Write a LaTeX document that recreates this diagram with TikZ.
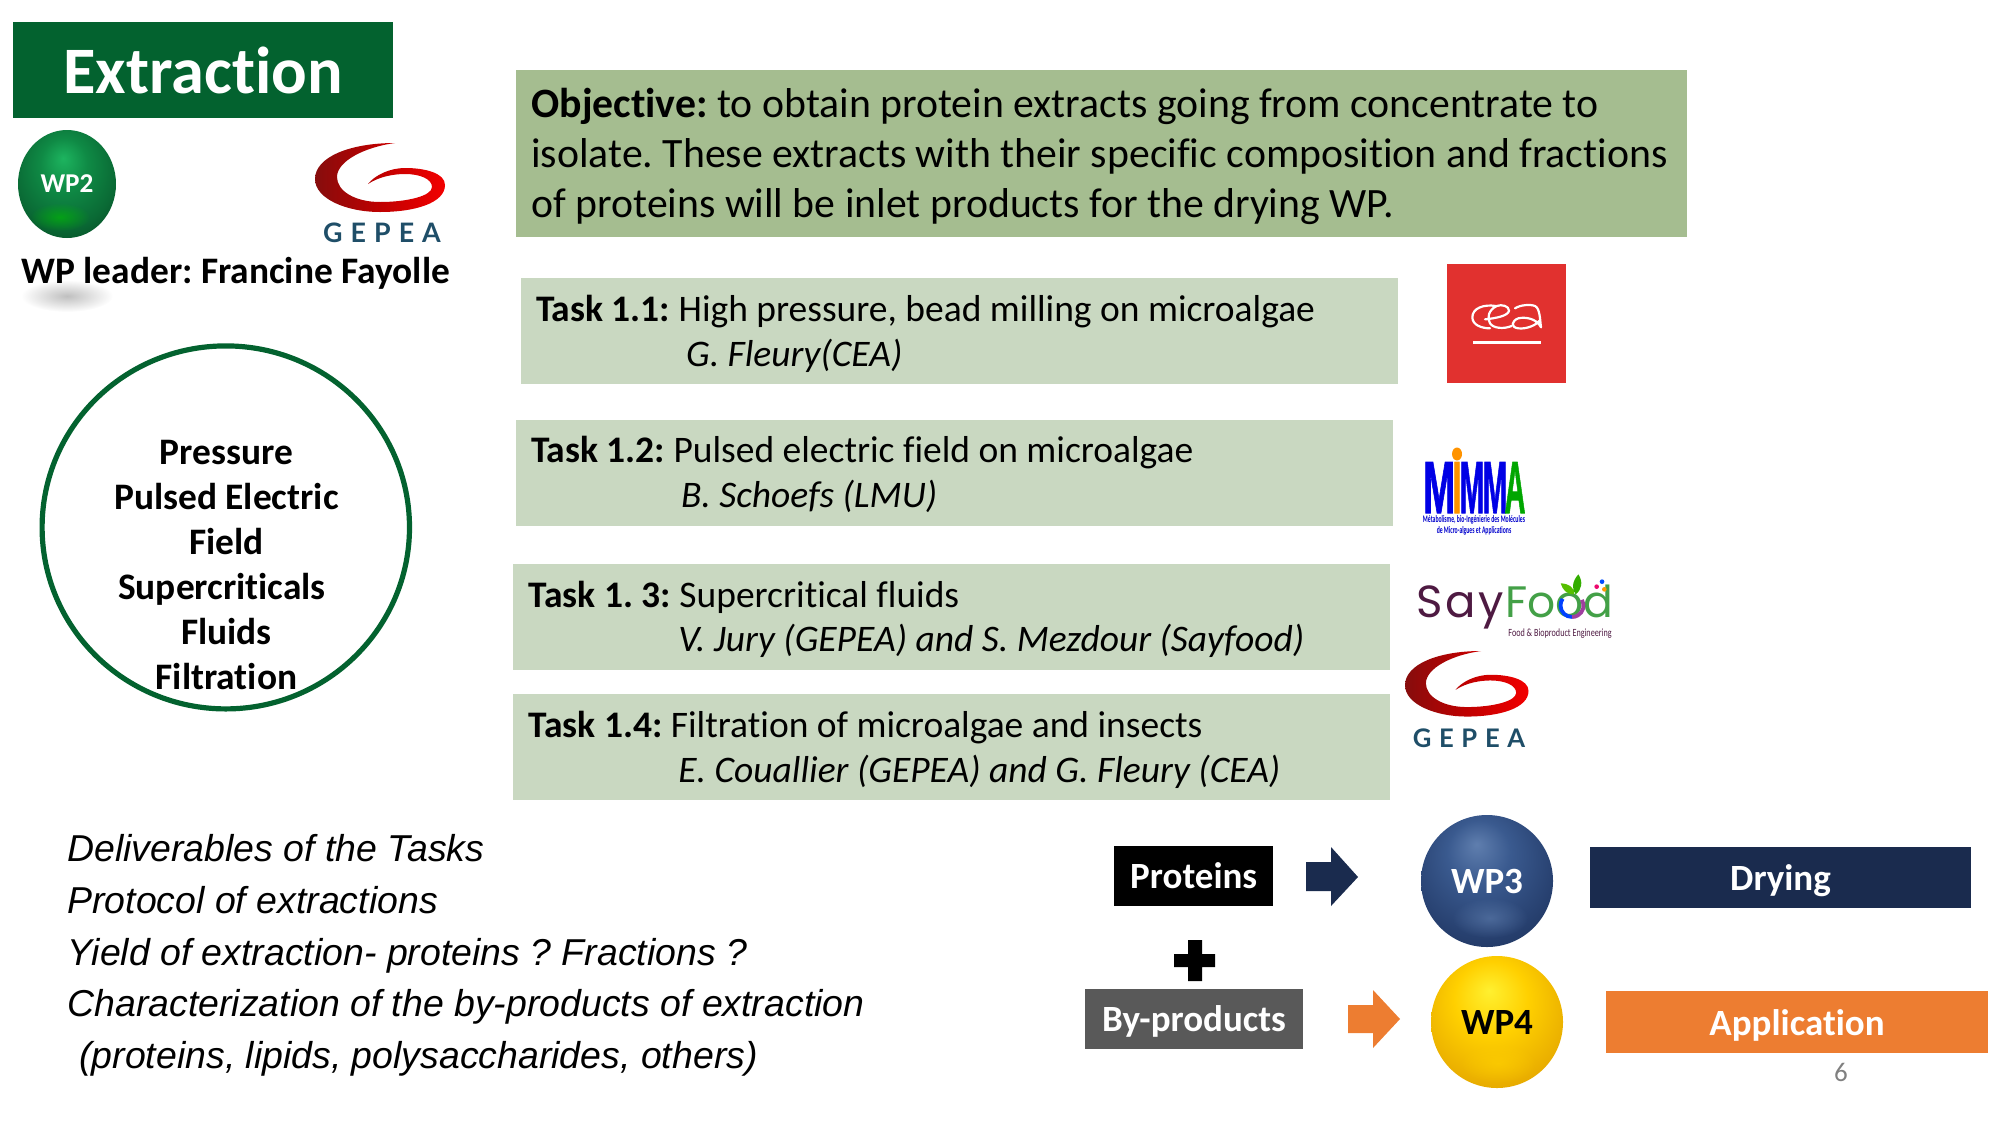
\documentclass[tikz,border=0pt]{standalone}
\usepackage{fontspec}
\usetikzlibrary{shapes.geometric,fadings}
\setmainfont[Ligatures=NoCommon]{Carlito}
\newfontfamily\arialfont{Liberation Sans}
\newfontfamily\gepeafont[LetterSpace=30]{Lato}
\newfontfamily\sayfont[LetterSpace=6]{Poppins}
\newfontfamily\foodfont{Poppins}
\newfontfamily\mimafont[BoldFeatures={FakeBold=1.5}]{Liberation Sans}
\newcommand{\fsz}[2]{\fontsize{#1pt}{#2pt}\selectfont}
\definecolor{hdgreen}{HTML}{03622F}
\definecolor{objgreen}{HTML}{A5BD90}
\definecolor{taskgreen}{HTML}{C9D8C1}
\definecolor{navy}{HTML}{1A2B4E}
\definecolor{orng}{HTML}{ED7D31}
\definecolor{byg}{HTML}{595959}
\definecolor{ceared}{HTML}{E1312F}
\definecolor{geptxt}{HTML}{1F4E68}
\definecolor{saypurple}{HTML}{4E1A42}
\definecolor{saygreen}{HTML}{43A047}
\definecolor{ga}{HTML}{1DB45F}\definecolor{gb}{HTML}{0F8A45}\definecolor{gc}{HTML}{0A6A35}\definecolor{gd}{HTML}{043D1E}\definecolor{ge}{HTML}{012010}
\definecolor{ba}{HTML}{5F7EAE}\definecolor{bb}{HTML}{3A5A8F}\definecolor{bc}{HTML}{27406F}\definecolor{bd}{HTML}{1B2F55}\definecolor{be}{HTML}{0D1830}
\definecolor{ya}{HTML}{FFF030}\definecolor{yb}{HTML}{FFD000}\definecolor{yc}{HTML}{E8AC00}\definecolor{yd}{HTML}{A07000}\definecolor{ye}{HTML}{1E1600}
\pgfdeclareradialshading{spheregreen}{\pgfpoint{-2bp}{12bp}}{
  color(0bp)=(ga); color(12bp)=(gb); color(26bp)=(gc); color(40bp)=(gd); color(54bp)=(ge)}
\pgfdeclareradialshading{sphereblue}{\pgfpoint{-4bp}{14bp}}{
  color(0bp)=(ba); color(12bp)=(bb); color(28bp)=(bc); color(40bp)=(bd); color(54bp)=(be)}
\pgfdeclareradialshading{spheregold}{\pgfpoint{-3bp}{12bp}}{
  color(0bp)=(ya); color(14bp)=(yb); color(30bp)=(yc); color(42bp)=(yd); color(54bp)=(ye)}
\tikzfading[name=softspot,inner color=transparent!40,outer color=transparent!100]
\tikzset{
  x=0.5pt,y=-0.5pt,
  panel/.style={anchor=north west,inner sep=0pt,outer sep=0pt,fill=#1},
  taskbox/.style={panel=taskgreen,minimum width=438.5pt,minimum height=53pt},
  tasktext/.style={anchor=west,inner sep=0pt,align=left,font=\fsz{18.75}{22.3}},
  lbl/.style={fill=#1,text=white,font=\fsz{18.5}{22}\bfseries,inner sep=0pt,outer sep=0pt,text height=17pt,text depth=4pt,anchor=north west},
  ball/.style={circle,inner sep=0pt,font=\fsz{18.5}{22}\bfseries},
  pics/swirl/.style={code={
    \path[left color=red!50!black!95,right color=red!95!black,middle color=red!75!black]
      (80,0) .. controls (35,0) and (0,14) .. (0,36)
      .. controls (0,56) and (32,69) .. (65,69)
      .. controls (100,69) and (130,60) .. (130,42)
      .. controls (130,30) and (110,25) .. (90,25)
      .. controls (75,25) and (60,32) .. (53,41)
      .. controls (65,33) and (80,31) .. (90,31)
      .. controls (105,31) and (117,36) .. (117,44)
      .. controls (117,53) and (92,59) .. (65,59)
      .. controls (40,59) and (22,48) .. (22,34)
      .. controls (22,18) and (50,4) .. (80,0) -- cycle;
  }},
  gep/.style={text=geptxt,inner sep=0pt,font=\gepeafont\fsz{13.4}{14}\bfseries},
  mim/.style={text=#1,inner sep=0pt,anchor=base,font=\mimafont\fsz{37}{39}\bfseries},
  ringarc/.style={line width=1.9pt,draw=#1},
}
\begin{document}
\frenchspacing
\begin{tikzpicture}
\useasboundingbox (0,0) rectangle (2000,1125);
% header
\node[lbl=hdgreen,minimum width=190pt,minimum height=48pt,font=\fsz{33.2}{36}\bfseries,text height=24.5pt,text depth=1pt,align=center] (title) at (13,22) {Extraction};
\node[ellipse,inner sep=0pt,shading=spheregreen,text=white,minimum width=49pt,minimum height=54pt,font=\fsz{13.6}{16}\bfseries] (wp2) at (67,184) {WP2};
\fill[green!75!black,path fading=softspot] (60,217) ellipse[x radius=30,y radius=14];
\pic at (315,143) {swirl};
\node[gep] (gep1) at (382,233) {GEPEA};
\node[ellipse,minimum width=46pt,minimum height=16pt,inner sep=0pt,inner color=gray!50,outer color=white,draw=none] (shadow) at (67,296) {};
\node[anchor=base west,inner sep=0pt,font=\fsz{18.7}{22}\bfseries] (leader) at (21,283) {WP leader: Francine Fayolle};
% objective
\node[panel=objgreen,minimum width=585.7pt,minimum height=83.5pt] (obj) at (516,70) {};
\node[tasktext,font=\fsz{20.88}{25.2}] (objtext) at (531,156.5)
 {\textbf{Objective:} to obtain protein extracts going from concentrate to\\isolate. These extracts with their specific composition and fractions\\of proteins will be inlet products for the drying WP.};
% tasks
\node[taskbox] (t1) at (520.5,278) {};
\node[tasktext] (t1t) at (535.7,334) {\textbf{Task 1.1:} High pressure, bead milling on microalgae\\\hspace*{75pt}\textit{G. Fleury(CEA)}};
\node[taskbox] (t2) at (515.5,419.6) {};
\node[tasktext] (t2t) at (530.6,474.6) {\textbf{Task 1.2:} Pulsed electric field on microalgae\\\hspace*{75pt}\textit{B. Schoefs (LMU)}};
\node[taskbox] (t3) at (513,563.8) {};
\node[tasktext] (t3t) at (528,619.2) {\textbf{Task 1. 3:} Supercritical fluids\\\hspace*{75pt}\textit{V. Jury (GEPEA) and S. Mezdour (Sayfood)}};
\node[taskbox] (t4) at (513,694) {};
\node[tasktext] (t4t) at (528,750) {\textbf{Task 1.4:} Filtration of microalgae and insects\\\hspace*{75pt}\textit{E. Couallier (GEPEA) and G. Fleury (CEA)}};
% circle
\node[ellipse,draw=hdgreen,line width=2.6pt,minimum width=183.7pt,minimum height=181.5pt,inner sep=0pt] (ring) at (225.8,527.4) {};
\node[inner sep=0pt,align=center,font=\fsz{18.7}{22.5}\bfseries] (ringtext) at (226.5,565) {Pressure\\Pulsed Electric\\Field\\\mbox{Supercriticals\hspace{4.5pt}}\\Fluids\\Filtration};
% cea logo
\node[panel=ceared,minimum width=59.5pt,minimum height=59.5pt] (cea) at (1447,264) {};
\begin{scope}[shift={(1440,290)},scale=1/3]
\draw[white,line width=1.1pt,line cap=round,line join=round]
  (168,48) .. controls (130,42) and (97,55) .. (97,82) .. controls (97,105) and (125,115) .. (150,115);
\draw[white,line width=1.1pt,line cap=round,line join=round]
  (135,88) .. controls (165,85) and (205,78) .. (207,62) .. controls (207,48) and (185,42) .. (170,48) .. controls (145,60) and (140,85) .. (150,100) .. controls (160,115) and (190,118) .. (215,108);
\draw[white,line width=1.1pt,line cap=round,line join=round]
  (225,55) .. controls (240,45) and (270,42) .. (285,48) .. controls (300,55) and (300,90) .. (303,112) .. controls (290,85) and (255,80) .. (235,85) .. controls (215,92) and (210,112) .. (235,115) .. controls (260,118) and (290,105) .. (300,90);
\draw[white,line width=1.5pt] (100,157) -- (303,157);
\end{scope}
% MIMMA
\node[mim=blue!90!black] (m1) at (1439,513) {\scalebox{0.52}[1]{M}};
\node[mim=blue!90!black] (m2) at (1472,513) {\scalebox{0.4}[1]{M}};
\node[mim=blue!90!black] (m3) at (1495,513) {\scalebox{0.4}[1]{M}};
\node[mim=green!65!black] (ma) at (1515,513) {\scalebox{0.39}[1]{A}};
\node[mim=orange!85!yellow] (mi) at (1457,513) {\scalebox{0.46}[1]{I}};
\node[ellipse,fill=orange!85!yellow,minimum width=5pt,minimum height=6.5pt,inner sep=0pt] (midot) at (1457,454) {};
\node[inner sep=0pt,text=blue!80!black,align=center,font=\fsz{5}{3.6}\bfseries] (mimsub) at (1474,525.5) {\scalebox{0.57}[1]{Métabolisme, bio-Ingénierie des Molécules}\\\scalebox{0.57}[1]{de Micro-algues et Applications}};
% SayFood
\node[anchor=base west,inner sep=0pt,text=saypurple,font=\sayfont\fsz{22.5}{24}] (say) at (1416,617) {Say};
\node[anchor=base west,inner sep=0pt,text=saygreen,font=\foodfont\fsz{22}{24}] (food) at (1505,617) {Food};
\node[anchor=base west,inner sep=0pt,text=saypurple,font=\fsz{5.5}{6}] (saysub) at (1508,636) {\scalebox{0.74}[1]{Food \& Bioproduct Engineering}};
\draw[ringarc=blue!75!cyan] (1572,605.5) ++(90:11.5) arc[start angle=90,end angle=215,radius=11.5];
\draw[ringarc=violet!75!white] (1572,605.5) ++(-30:11.5) arc[start angle=-30,end angle=90,radius=11.5];
\begin{scope}[shift={(1410,565)},scale=1/3]
\path[fill=green!55!yellow!75!black] (452,55) .. controls (475,55) and (497,70) .. (492,88) .. controls (470,88) and (458,75) .. (452,55) -- cycle;
\path[fill=green!60!black!80!yellow] (505,28) .. controls (485,50) and (485,75) .. (497,88) .. controls (515,75) and (520,50) .. (505,28) -- cycle;
\fill[magenta!70!red] (560,65) circle[radius=7];
\fill[blue!70!cyan] (576,50) circle[radius=7];
\fill[orange!80!yellow] (583,73) circle[radius=7];
\end{scope}
\pic[scale=0.95] at (1405,651) {swirl};
\node[gep,font=\gepeafont\fsz{12.8}{14}\bfseries] (gep2) at (1469,738.5) {GEPEA};
% deliverables
\node[anchor=north west,inner sep=0pt,align=left,font=\arialfont\itshape\fsz{18.72}{25.9}] (deliv) at (67,834)
 {Deliverables of the Tasks\\Protocol of extractions\\Yield of extraction- proteins ? Fractions ?\\Characterization of the by-products of extraction\\\hspace*{6pt}(proteins, lipids, polysaccharides, others)};
% flow
\node[lbl=black,minimum width=79.7pt,minimum height=30pt,align=center] (prot) at (1114,845.5) {Proteins};
\path[fill=navy] (1306,862) -- (1331,862) -- (1331,847) -- (1358,877) -- (1331,906) -- (1331,891) -- (1306,891) -- cycle;
\node[ball,shading=sphereblue,text=white,minimum size=66pt] (wp3) at (1487,881) {WP3};
\fill[ba,path fading=softspot] (1490,918) ellipse[x radius=38,y radius=20];
\node[lbl=navy,minimum width=190.5pt,minimum height=30.5pt,align=center] (dry) at (1590,847) {Drying};
\path[fill=black] (1188,940) -- (1202,940) -- (1202,954) -- (1215,954) -- (1215,967) -- (1202,967) -- (1202,981) -- (1188,981) -- (1188,967) -- (1174,967) -- (1174,954) -- (1188,954) -- cycle;
\node[lbl=byg,minimum width=109pt,minimum height=30pt,align=center] (byp) at (1085,988.5) {By-products};
\path[fill=orng] (1348,1005) -- (1373,1005) -- (1373,990) -- (1400,1019) -- (1373,1048) -- (1373,1033) -- (1348,1033) -- cycle;
\node[ball,shading=spheregold,text=black,minimum size=66pt,text height=12.5pt,text depth=0pt] (wp4) at (1497,1022) {WP4};
\fill[yb,path fading=softspot] (1498,1063) ellipse[x radius=38,y radius=20];
\node[lbl=orng,minimum width=191pt,minimum height=31pt,align=center] (app) at (1606,991) {Application};
\node[inner sep=0pt,text=gray,font=\fsz{13.5}{14}] (pg) at (1841,1072) {6};
\end{tikzpicture}
\end{document}
